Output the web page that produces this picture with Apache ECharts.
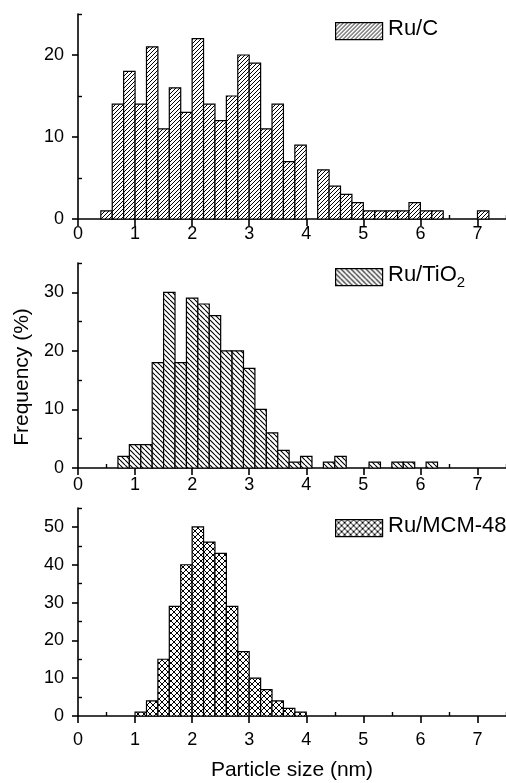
<!DOCTYPE html>
<html>
<head>
<meta charset="utf-8">
<script src="https://cdn.jsdelivr.net/npm/echarts@6/dist/echarts.min.js"></script>
<style>
  html, body { margin: 0; padding: 0; background: #fff; }
  #chart { width: 506px; height: 783px; }
</style>
</head>
<body>
<div id="chart"></div>
<script>
// Particle size distributions (bin width 0.2 nm); each bin given by its lower edge.
const binWidth = 0.2;

const ruCBins = [0.4, 0.6, 0.8, 1.0, 1.2, 1.4, 1.6, 1.8, 2.0, 2.2, 2.4, 2.6, 2.8, 3.0, 3.2,
                 3.4, 3.6, 3.8, 4.2, 4.4, 4.6, 4.8, 5.0, 5.2, 5.4, 5.6, 5.8, 6.0, 6.2, 7.0];
const ruCFreq = [1, 14, 18, 14, 21, 11, 16, 13, 22, 14, 12, 15, 20, 19, 11,
                 14, 7, 9, 6, 4, 3, 2, 1, 1, 1, 1, 2, 1, 1, 1];

const ruTiO2Bins = [0.7, 0.9, 1.1, 1.3, 1.5, 1.7, 1.9, 2.1, 2.3, 2.5, 2.7, 2.9, 3.1, 3.3, 3.5,
                    3.7, 3.9, 4.3, 4.5, 5.1, 5.5, 5.7, 6.1];
const ruTiO2Freq = [2, 4, 4, 18, 30, 18, 29, 28, 26, 20, 20, 17, 10, 6, 3,
                    1, 2, 1, 2, 1, 1, 1, 1];

const ruMCMBins = [1.0, 1.2, 1.4, 1.6, 1.8, 2.0, 2.2, 2.4, 2.6, 2.8, 3.0, 3.2, 3.4, 3.6, 3.8];
const ruMCMFreq = [1, 4, 15, 29, 40, 50, 46, 43, 29, 17, 10, 7, 4, 2, 1];

// Axis ticks and labels
const xMajorTicks = [0, 1, 2, 3, 4, 5, 6, 7];
const xMinorTicks = [0.5, 1.5, 2.5, 3.5, 4.5, 5.5, 6.5, 7.5];
const yMajorTicks = [
  [0, 10, 20],
  [0, 10, 20, 30],
  [0, 10, 20, 30, 40, 50]
];
const yMinorTicks = [
  [5, 15, 25],
  [5, 15, 25, 35],
  [5, 15, 25, 35, 45, 55]
];
const yMax = [25, 35, 55];
const panelNames = ['Ru/C', 'Ru/TiO{sub|2}', 'Ru/MCM-48'];

const FONT = "'Liberation Sans', Arial, sans-serif";

// Hatch fill tiles: +1 = "/", -1 = "\"
function hatchTile(size, dirs, lw) {
  const c = document.createElement('canvas');
  c.width = size; c.height = size;
  const g = c.getContext('2d');
  g.fillStyle = '#fff';
  g.fillRect(0, 0, size, size);
  g.strokeStyle = '#000';
  g.lineWidth = lw;
  dirs.forEach(function (d) {
    g.beginPath();
    [-size, 0, size].forEach(function (o) {
      if (d > 0) { g.moveTo(o, size); g.lineTo(o + size, 0); }
      else { g.moveTo(o, 0); g.lineTo(o + size, size); }
    });
    g.stroke();
  });
  return { image: c, repeat: 'repeat' };
}
const fills = [
  hatchTile(4, [1], 1.0),
  hatchTile(5, [-1], 1.1),
  hatchTile(6, [1, -1], 1.0)
];

const grids = [
  { left: 78, top: 14, width: 428, height: 205 },
  { left: 78, top: 263, width: 428, height: 205 },
  { left: 78, top: 508, width: 428, height: 208 }
];
const xLabelMargin = [6, 8, 15];

const xAxes = [], yAxes = [], series = [], graphics = [];
const binSets = [[ruCBins, ruCFreq], [ruTiO2Bins, ruTiO2Freq], [ruMCMBins, ruMCMFreq]];

for (let i = 0; i < 3; i++) {
  // primary axes: line, major ticks, labels
  xAxes.push({
    type: 'value', gridIndex: i, min: 0, max: 7.5,
    axisLine: { show: true, onZero: false, lineStyle: { color: '#000', width: 1.6 } },
    axisTick: { show: true, inside: false, length: 7, customValues: xMajorTicks,
                lineStyle: { color: '#000', width: 1.6 } },
    axisLabel: { show: true, customValues: xMajorTicks, color: '#000', fontSize: 18,
                 fontFamily: FONT, margin: xLabelMargin[i] },
    splitLine: { show: false },
    name: i === 2 ? 'Particle size (nm)' : '',
    nameLocation: 'middle', nameGap: 44,
    nameTextStyle: { color: '#000', fontSize: 21, fontFamily: FONT }
  });
  // minor ticks
  xAxes.push({
    type: 'value', gridIndex: i, min: 0, max: 7.5,
    axisLine: { show: false },
    axisTick: { show: true, inside: false, length: 4, customValues: xMinorTicks,
                lineStyle: { color: '#000', width: 1.4 } },
    axisLabel: { show: false },
    splitLine: { show: false }
  });
  yAxes.push({
    type: 'value', gridIndex: i, min: 0, max: yMax[i],
    axisLine: { show: true, onZero: false, lineStyle: { color: '#000', width: 1.6 } },
    axisTick: { show: true, inside: false, length: 6, customValues: yMajorTicks[i],
                lineStyle: { color: '#000', width: 1.6 } },
    axisLabel: { show: true, customValues: yMajorTicks[i], color: '#000', fontSize: 18,
                 fontFamily: FONT, margin: 14 },
    splitLine: { show: false }
  });
  yAxes.push({
    type: 'value', gridIndex: i, min: 0, max: yMax[i],
    axisLine: { show: false },
    axisTick: { show: true, inside: false, length: 4, customValues: yMinorTicks[i],
                lineStyle: { color: '#000', width: 1.4 } },
    axisLabel: { show: false },
    splitLine: { show: false }
  });

  const fill = fills[i];
  const bins = binSets[i][0], freq = binSets[i][1];
  series.push({
    type: 'custom',
    xAxisIndex: 2 * i, yAxisIndex: 2 * i,
    data: bins.map(function (b, k) { return [b, freq[k]]; }),
    encode: { x: 0, y: 1 },
    clip: false,
    renderItem: function (params, api) {
      const x0 = api.value(0), f = api.value(1);
      const p0 = api.coord([x0, 0]);
      const p1 = api.coord([x0 + binWidth, f]);
      return {
        type: 'rect',
        shape: { x: p0[0], y: p1[1], width: p1[0] - p0[0], height: p0[1] - p1[1] },
        style: { fill: fill, stroke: '#000', lineWidth: 1.2 }
      };
    }
  });
}

// legend boxes and sample names
const legendTops = [22, 268, 519];
for (let i = 0; i < 3; i++) {
  graphics.push({
    type: 'rect', left: 335, top: legendTops[i], z: 10,
    shape: { width: 47, height: 17 },
    style: { fill: fills[i], stroke: '#000', lineWidth: 1.2 }
  });
  graphics.push({
    type: 'text', left: 388, top: legendTops[i] - 4, z: 10,
    style: {
      text: panelNames[i], fill: '#000', fontSize: 22, fontFamily: FONT,
      rich: { sub: { fontSize: 15, fontFamily: FONT, fill: '#000', padding: [16, 0, 0, 0] } }
    }
  });
}
// shared frequency axis title
graphics.push({
  type: 'text', x: 22, y: 377, rotation: Math.PI / 2, z: 10,
  style: { text: 'Frequency (%)', fill: '#000', fontSize: 21, fontFamily: FONT,
           textAlign: 'center', textVerticalAlign: 'middle' }
});

const chart = echarts.init(document.getElementById('chart'), null, { renderer: 'canvas' });
chart.setOption({
  animation: false,
  backgroundColor: '#fff',
  grid: grids,
  xAxis: xAxes,
  yAxis: yAxes,
  series: series,
  graphic: graphics
});
</script>
</body>
</html>
